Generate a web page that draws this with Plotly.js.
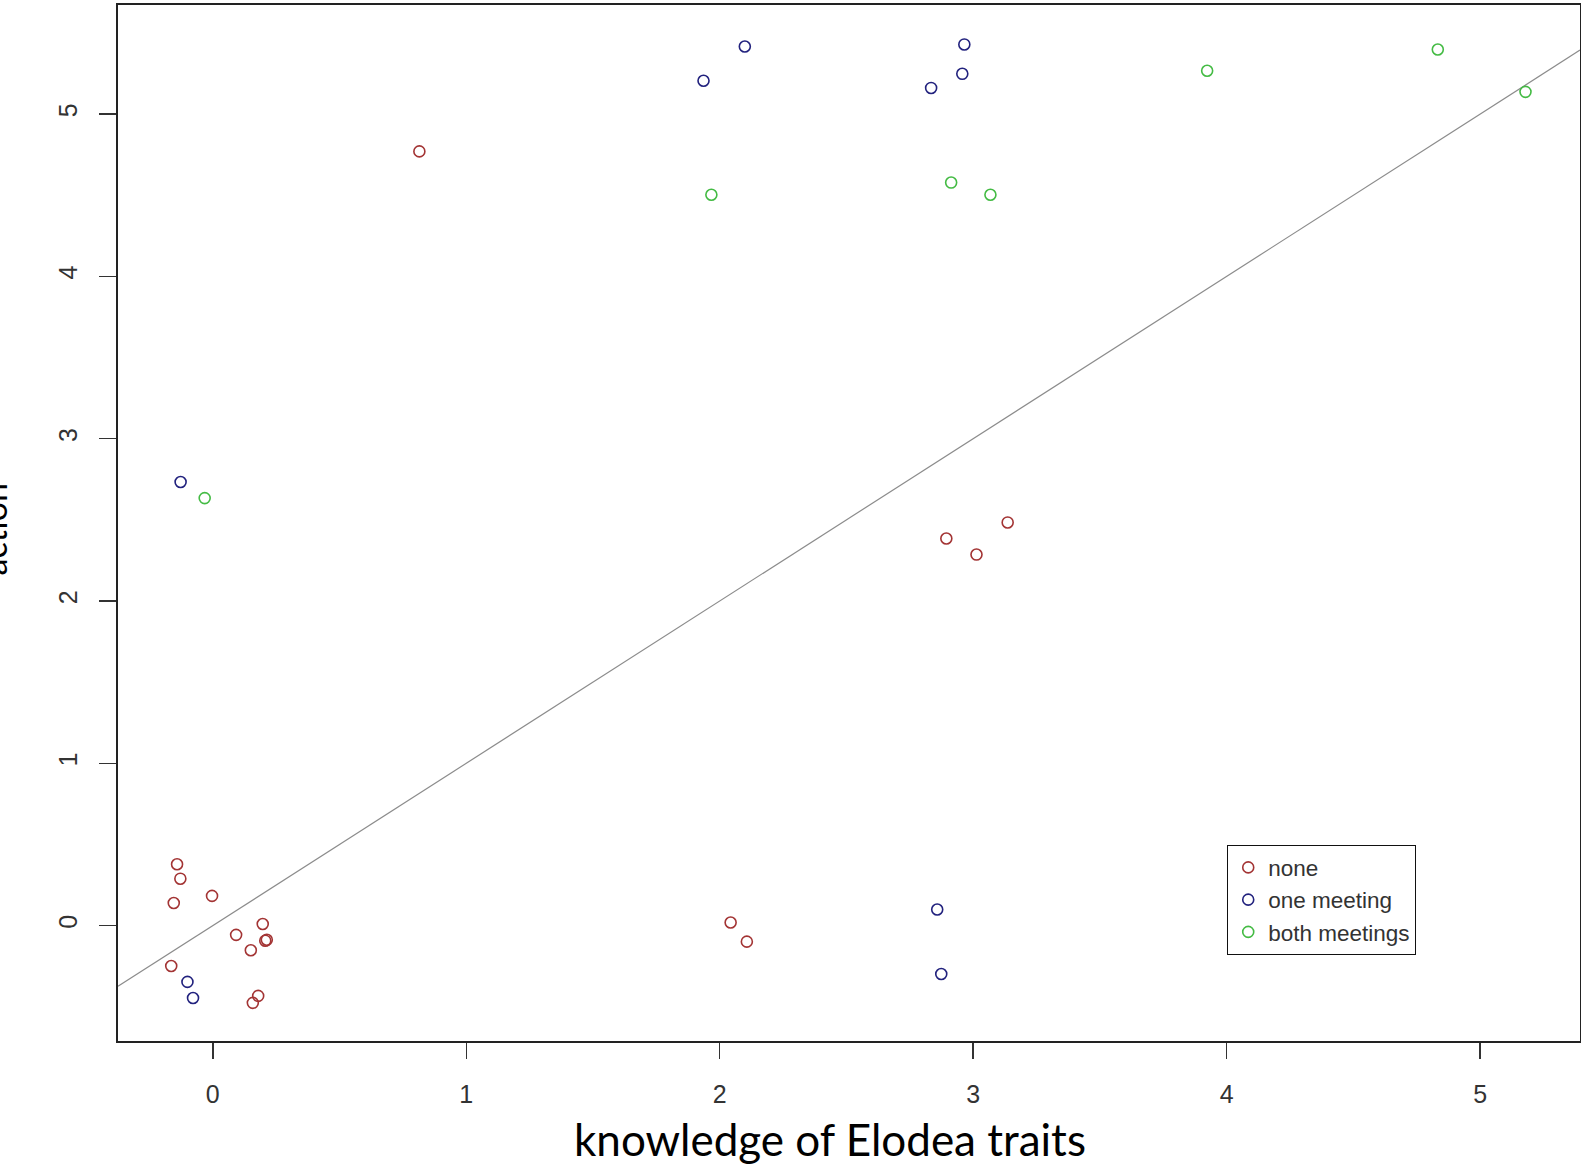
<!DOCTYPE html>
<html>
<head>
<meta charset="utf-8">
<script src="https://cdn.plot.ly/plotly-3.0.1.min.js"></script>
<style>html,body{margin:0;padding:0;background:#fff;}#chart{width:1581px;height:1168px;}</style>
</head>
<body>
<div id="chart"></div>
<script>
// Data
const noneX = [0.815, -0.141, -0.128, -0.154, -0.003, -0.164, 0.092, 0.197, 0.150, 0.207, 0.213, 0.179, 0.158, 2.043, 2.107, 2.894, 3.013, 3.136];
const noneY = [4.77, 0.378, 0.289, 0.139, 0.183, -0.249, -0.057, 0.010, -0.152, -0.093, -0.087, -0.433, -0.476, 0.019, -0.099, 2.385, 2.286, 2.484];

const oneX = [1.936, 2.099, 2.834, 2.965, 2.957, -0.127, -0.100, -0.078, 2.858, 2.874];
const oneY = [5.205, 5.416, 5.161, 5.429, 5.248, 2.733, -0.347, -0.446, 0.099, -0.298];

const bothX = [1.967, 2.913, 3.068, 3.923, 4.833, 5.179, -0.032];
const bothY = [4.503, 4.578, 4.503, 5.267, 5.398, 5.137, 2.634];

const groupNames = ["none", "one meeting", "both meetings"];
const lineIntercept = 0;
const lineSlope = 1;
const xRange = [-0.374, 5.394];
const yRange = [-0.711, 5.672];
const xTicks = [0, 1, 2, 3, 4, 5];
const yTicks = [0, 1, 2, 3, 4, 5];
const xTitle = "knowledge of Elodea traits";
const yTitle = "action";

const colors = ["#a33434", "#22227e", "#44bb44"];

function pts(x, y, name, color) {
  return {
    type: "scatter", mode: "markers", x: x, y: y, name: name,
    marker: {symbol: "circle-open", size: 11, color: color, line: {width: 1.6, color: color}},
    hoverinfo: "x+y"
  };
}

const lineX = xRange.slice();
const lineY = lineX.map(v => lineIntercept + lineSlope * v);

const traces = [
  {type: "scatter", mode: "lines", x: lineX, y: lineY, showlegend: false,
   line: {color: "#8c8c8c", width: 1.2}, hoverinfo: "skip"},
  pts(noneX, noneY, groupNames[0], colors[0]),
  pts(oneX, oneY, groupNames[1], colors[1]),
  pts(bothX, bothY, groupNames[2], colors[2])
];

const axisFont = {family: "Liberation Sans, Arial, sans-serif", size: 25, color: "#333"};

const layout = {
  width: 1581, height: 1168,
  margin: {l: 118, r: 1, t: 5, b: 127},
  paper_bgcolor: "#fff", plot_bgcolor: "#fff",
  showlegend: true,
  xaxis: {
    range: xRange, tickvals: xTicks, ticktext: xTicks.map(String),
    showgrid: false, zeroline: false,
    showline: true, mirror: true, linecolor: "#222", linewidth: 1.6,
    ticks: "outside", ticklen: 16, tickwidth: 1.5, tickcolor: "#333",
    tickfont: axisFont, ticklabelstandoff: 14
  },
  yaxis: {
    range: yRange, tickvals: yTicks, ticktext: yTicks.map(String),
    showgrid: false, zeroline: false,
    showline: true, mirror: true, linecolor: "#222", linewidth: 1.6,
    ticks: "outside", ticklen: 17, tickwidth: 1.5, tickcolor: "#333",
    tickfont: axisFont, tickangle: -90, ticklabelstandoff: 12
  },
  legend: {
    x: 0.7585, y: 0.1892, xanchor: "left", yanchor: "top",
    bordercolor: "#111", borderwidth: 1.3, bgcolor: "#fff",
    font: {family: "Liberation Sans, Arial, sans-serif", size: 22.5, color: "#333"},
    itemsizing: "trace"
  },
  annotations: [
    {
      text: xTitle, xref: "paper", yref: "paper",
      x: 0.487, y: -0.0945, xanchor: "center", yanchor: "middle",
      showarrow: false,
      font: {family: "Lato, Open Sans, sans-serif", size: 44, color: "#000"}
    },
    {
      text: yTitle, xref: "paper", yref: "paper",
      x: -0.070, y: 0.494, xanchor: "right", yanchor: "middle",
      textangle: -90, showarrow: false,
      font: {family: "Lato, Open Sans, sans-serif", size: 34, color: "#000"}
    }
  ]
};

Plotly.newPlot("chart", traces, layout, {displayModeBar: false, staticPlot: true});
</script>
</body>
</html>
